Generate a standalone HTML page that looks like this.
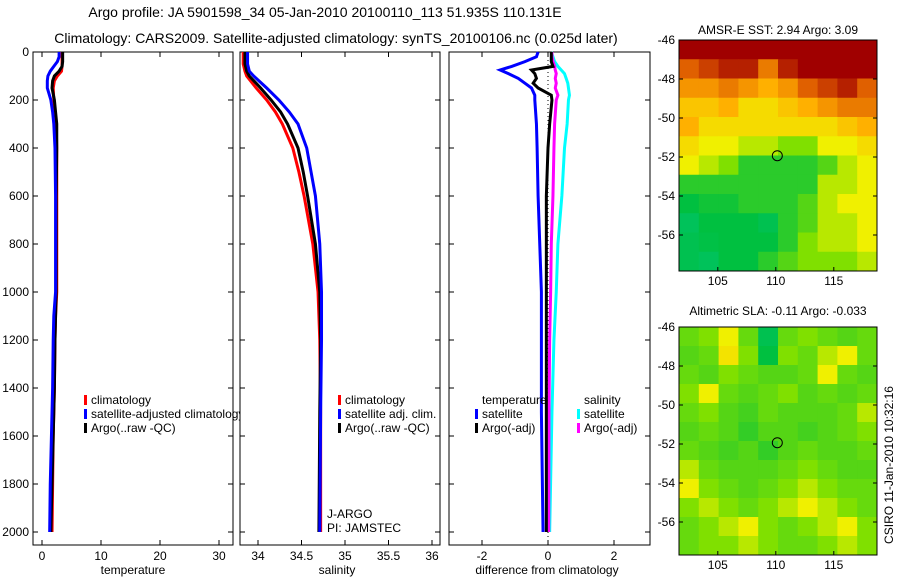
<!DOCTYPE html>
<html><head><meta charset="utf-8"><style>
body{margin:0;background:#fff;}
svg text{font-family:"Liberation Sans",sans-serif;font-size:12px;fill:#000;}
svg text.big{font-size:14px;}
</style></head><body>
<svg id="c" width="900" height="580" viewBox="0 0 900 580">
<text class="big" x="325" y="17" text-anchor="middle">Argo profile: JA 5901598_34 05-Jan-2010 20100110_113 51.935S 110.131E</text>
<text class="big" x="336" y="43" text-anchor="middle">Climatology: CARS2009. Satellite-adjusted climatology: synTS_20100106.nc (0.025d later)</text>
<text x="778" y="34" text-anchor="middle">AMSR-E SST: 2.94  Argo: 3.09</text>
<text x="778" y="315" text-anchor="middle">Altimetric SLA: -0.11  Argo: -0.033</text>
<g id="plots"></g>
<text transform="translate(893,465) rotate(-90)" text-anchor="middle">CSIRO 11-Jan-2010 10:32:16</text>
</svg>
<script>
// ---- data ----
const tDepth=[0,20,40,60,80,100,120,150,200,250,300,400,600,800,1000,1100,1200,1400,1600,1800,2000];
const tClim=[3.4,3.4,3.4,3.4,3.3,2.6,2.1,1.9,2.0,2.2,2.4,2.5,2.5,2.5,2.5,2.3,2.2,2.1,1.9,1.8,1.7];
const tSat=[2.9,2.9,2.6,2.0,1.4,1.0,0.9,0.9,1.5,1.8,2.0,2.2,2.3,2.3,2.3,2.0,1.9,1.8,1.6,1.4,1.3];
const tArgo=[3.5,3.5,3.5,3.4,2.9,2.1,1.8,1.7,2.1,2.3,2.5,2.5,2.4,2.4,2.4,2.3,2.2,2.1,1.9,1.7,1.5];
const sDepth=[0,50,80,100,150,200,250,300,400,500,600,800,1000,1200,1500,2000];
const sClim=[33.83,33.83,33.85,33.87,33.98,34.1,34.2,34.28,34.4,34.47,34.53,34.63,34.69,34.71,34.72,34.72];
const sSat=[33.88,33.88,33.9,33.95,34.1,34.24,34.36,34.46,34.56,34.61,34.66,34.71,34.73,34.73,34.72,34.71];
const sArgo=[33.85,33.85,33.87,33.9,34.03,34.15,34.26,34.34,34.46,34.52,34.57,34.66,34.71,34.72,34.71,34.70];
const dDepth=[0,20,40,60,75,90,110,130,150,180,200,300,400,600,800,1000,1200,1500,2000];
const dTSat=[-0.3,-0.35,-0.7,-1.1,-1.45,-1.2,-0.9,-0.7,-0.5,-0.4,-0.4,-0.35,-0.33,-0.3,-0.25,-0.2,-0.2,-0.2,-0.15];
const dSSat=[0.1,0.15,0.2,0.3,0.4,0.5,0.55,0.6,0.62,0.65,0.62,0.58,0.5,0.42,0.3,0.25,0.18,0.12,0.05];
const dSArgo=[0.12,0.12,0.15,0.2,0.22,0.25,0.22,0.25,0.22,0.3,0.25,0.2,0.18,0.15,0.1,0.08,0.05,0.03,0.02];
const dTArgo=[0.1,0.1,0.1,0.15,-0.5,-0.4,-0.35,-0.45,-0.3,0.1,0.12,0.05,0.0,-0.05,-0.05,-0.05,-0.05,-0.05,-0.05];
const depthTicks=[0,200,400,600,800,1000,1200,1400,1600,1800,2000];
const tTicks=[0,10,20,30];
const sTicks=[34,34.5,35,35.5,36];
const dTicks=[-2,0,2];
const lonTicks=[105,110,115];
const latTicks=[-46,-48,-50,-52,-54,-56];
const sstGrid=[
[1,1,1,1,1,1,1,1,1,1],
[.85,.9,.95,.95,.8,.95,1,1,1,1],
[.75,.75,.8,.75,.7,.75,.85,.9,.95,.85],
[.65,.65,.7,.6,.6,.65,.7,.75,.8,.8],
[.7,.6,.6,.6,.6,.6,.6,.6,.65,.7],
[.6,.55,.55,.5,.5,.45,.45,.55,.55,.6],
[.55,.5,.45,.35,.35,.35,.35,.4,.5,.55],
[.35,.35,.35,.35,.35,.35,.35,.5,.5,.55],
[.3,.32,.32,.35,.35,.35,.4,.5,.55,.55],
[.22,.3,.3,.3,.25,.35,.4,.5,.5,.55],
[.25,.28,.3,.3,.3,.35,.45,.5,.5,.55],
[.25,.22,.3,.3,.35,.4,.45,.45,.45,.5]];
const slaGrid=[
[.42,.45,.55,.42,.25,.42,.45,.42,.4,.42],
[.4,.42,.58,.45,.3,.45,.42,.5,.55,.42],
[.42,.4,.45,.42,.4,.4,.42,.55,.42,.4],
[.45,.55,.42,.4,.42,.45,.4,.42,.4,.42],
[.42,.45,.4,.38,.42,.4,.4,.4,.42,.5],
[.4,.42,.4,.36,.4,.4,.38,.4,.42,.45],
[.42,.4,.38,.4,.36,.4,.42,.4,.4,.42],
[.5,.42,.4,.4,.4,.42,.45,.42,.4,.4],
[.55,.45,.42,.4,.42,.45,.5,.45,.42,.42],
[.45,.5,.45,.42,.45,.5,.55,.5,.45,.42],
[.42,.45,.5,.55,.45,.42,.45,.5,.55,.45],
[.42,.45,.45,.5,.45,.42,.42,.45,.5,.45]];
// ---- drawing ----
const NS='http://www.w3.org/2000/svg';
const G=document.getElementById('plots');
function mk(tag,attrs,parent){const e=document.createElementNS(NS,tag);for(const k in attrs)e.setAttribute(k,attrs[k]);(parent||G).appendChild(e);return e;}
const yD=d=>52+d*0.24;
const Y0=52,Y1=545;
const xT=v=>42+5.9*v, xS=v=>258+87*(v-34), xDf=v=>548+33*v;
function frame(x0,x1,name){
  const r=mk('rect',{x:x0,y:Y0,width:x1-x0,height:Y1-Y0,fill:'#fff',stroke:'#000','stroke-width':1});
  
  
}
function ticksY(x0,x1,labels){
  depthTicks.forEach(d=>{
    mk('line',{x1:x0,x2:x0+5,y1:yD(d),y2:yD(d),stroke:'#000'});
    mk('line',{x1:x1,x2:x1-5,y1:yD(d),y2:yD(d),stroke:'#000'});
    if(labels){const t=mk('text',{x:x0-4,y:yD(d)+4,'text-anchor':'end'});t.textContent=d;
      
      }
  });
}
function ticksX(arr,fx,name){
  arr.forEach(v=>{const x=fx(v);
    mk('line',{x1:x,x2:x,y1:Y1,y2:Y1-5,stroke:'#000'});
    mk('line',{x1:x,x2:x,y1:Y0,y2:Y0+5,stroke:'#000'});
    const t=mk('text',{x:x,y:Y1+15,'text-anchor':'middle'});t.textContent=v;
    
    });
}
function line(depths,vals,fx,color,name){
  let p=[];depths.forEach((d,i)=>{p.push(fx(vals[i])+','+yD(d));});
  const l=mk('polyline',{points:p.join(' '),fill:'none',stroke:color,'stroke-width':3});
  
  
}
function label(x,y,txt,name,anchor){const t=mk('text',{x:x,y:y,'text-anchor':anchor||'start'});t.textContent=txt;
  
  return t;}
function legend(x,y,color,txt,name){
  mk('rect',{x:x,y:y-9,width:3,height:10,fill:color});
  label(x+7,y,txt,name);
}
// panel 1
frame(33,233,'temperature-panel');ticksY(33,233,true);ticksX(tTicks,xT,'temperature-tick-label');
line(tDepth,tClim,xT,'#f00','temp-climatology-line');
line(tDepth,tArgo,xT,'#000','temp-argo-line');
line(tDepth,tSat,xT,'#00f','temp-satellite-line');
label(133,574,'temperature','temperature-axis-title','middle');
legend(84,404,'#f00','climatology','legend-climatology');
legend(84,418,'#00f','satellite-adjusted climatology','legend-satellite-adjusted');
legend(84,432,'#000','Argo(..raw -QC)','legend-argo');
// panel 2
frame(240,440,'salinity-panel');ticksY(240,440,false);ticksX(sTicks,xS,'salinity-tick-label');
line(sDepth,sClim,xS,'#f00','sal-climatology-line');
line(sDepth,sArgo,xS,'#000','sal-argo-line');
line(sDepth,sSat,xS,'#00f','sal-satellite-line');
label(337,574,'salinity','salinity-axis-title','middle');
legend(338,404,'#f00','climatology','legend-climatology-2');
legend(338,418,'#00f','satellite adj. clim.','legend-satellite-adj-2');
legend(338,432,'#000','Argo(..raw -QC)','legend-argo-2');
label(327,518,'J-ARGO','program-label');
label(327,532,'PI: JAMSTEC','pi-label');
// panel 3
frame(449,650,'difference-panel');ticksY(449,650,false);ticksX(dTicks,xDf,'difference-tick-label');
mk('line',{x1:xDf(0),x2:xDf(0),y1:Y0,y2:Y1,stroke:'#000','stroke-dasharray':'1,3'});
line(dDepth,dTSat,xDf,'#00f','diff-temp-satellite-line');
line(dDepth,dSSat,xDf,'#0ff','diff-sal-satellite-line');
line(dDepth,dSArgo,xDf,'#f0f','diff-sal-argo-line');
line(dDepth,dTArgo,xDf,'#000','diff-temp-argo-line');
label(547,574,'difference from climatology','difference-axis-title','middle');
label(482,404,'temperature','legend-temp-header');
label(584,404,'salinity','legend-sal-header');
legend(475,418,'#00f','satellite','legend-temp-satellite');
legend(475,432,'#000','Argo(-adj)','legend-temp-argo');
legend(577,418,'#0ff','satellite','legend-sal-satellite');
legend(577,432,'#f0f','Argo(-adj)','legend-sal-argo');
// maps
const stops=[[0,[0,200,160]],[.3,[0,192,64]],[.45,[128,224,0]],[.55,[240,240,0]],[.7,[255,176,0]],[.85,[224,96,0]],[1,[160,0,0]]];
function cmap(v){for(let i=1;i<stops.length;i++){if(v<=stops[i][0]){const a=stops[i-1],b=stops[i],f=(v-a[0])/(b[0]-a[0]);
  return 'rgb('+a[1].map((c,k)=>Math.round(c+(b[1][k]-c)*f)).join(',')+')';}}return 'rgb(160,0,0)';}
function map(top,bottom,grid,name){
  const x0=679,x1=877,lon=v=>683+11.6*(v-102),lat=v=>top+(-46-v)*19.5;
  const g=mk('g',{});
  const rows=grid.length,cols=grid[0].length,cw=(x1-x0)/cols,ch=(bottom-top)/rows;
  grid.forEach((r,i)=>r.forEach((v,j)=>mk('rect',{x:x0+j*cw,y:top+i*ch,width:cw+0.5,height:ch+0.5,fill:cmap(v)},g)));
  mk('rect',{x:x0,y:top,width:x1-x0,height:bottom-top,fill:'none',stroke:'#000'});
  latTicks.forEach(v=>{const y=lat(v);mk('line',{x1:x0,x2:x0+4,y1:y,y2:y,stroke:'#000'});mk('line',{x1:x1,x2:x1-4,y1:y,y2:y,stroke:'#000'});
    label(675,y+4,v,'latitude-tick-label','end');});
  lonTicks.forEach(v=>{const x=lon(v);mk('line',{x1:x,x2:x,y1:bottom,y2:bottom-4,stroke:'#000'});
    label(x,bottom+14,v,'longitude-tick-label','middle');});
  const c=mk('circle',{cx:lon(110.131),cy:lat(-51.935),r:5,fill:'none',stroke:'#000'});
  
  
}
map(40,271,sstGrid,'sst-map');
map(327,555,slaGrid,'sla-map');
</script>
</body></html>
